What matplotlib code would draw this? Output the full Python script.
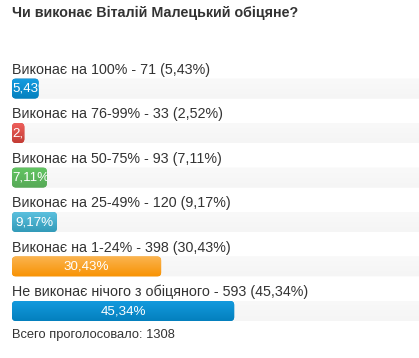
import matplotlib
matplotlib.use("Agg")
import matplotlib.pyplot as plt
import numpy as np
from matplotlib.patches import FancyBboxPatch
from matplotlib.transforms import TransformedBbox

title = "Чи виконає Віталій Малецький обіцяне?"
labels = [
    "Виконає на 100%",
    "Виконає на 76-99%",
    "Виконає на 50-75%",
    "Виконає на 25-49%",
    "Виконає на 1-24%",
    "Не виконає нічого з обіцяного",
]
votes = [71, 33, 93, 120, 398, 593]
percents = [5.43, 2.52, 7.11, 9.17, 30.43, 45.34]
pct_text = ["5,43%", "2,52%", "7,11%", "9,17%", "30,43%", "45,34%"]
total_votes = 1308
footer = "Всего проголосовало: "

# gradient colours (top, bottom)
bar_colors = [
    ("#149bdf", "#0480be"),
    ("#ee5f5b", "#c43c35"),
    ("#62c462", "#57a957"),
    ("#5bc0de", "#339bb9"),
    ("#fbb450", "#f89406"),
    ("#149bdf", "#0480be"),
]
track_colors = ("#f5f5f5", "#f9f9f9")

W, H = 419, 358
DPI = 100
plt.rcParams["font.family"] = ["Liberation Sans", "DejaVu Sans"]

fig = plt.figure(figsize=(W / DPI, H / DPI), dpi=DPI)
fig.patch.set_facecolor("white")

left_px, track_px = 12, 490
first_center, step = 88.5, 44.5
ax = fig.add_axes([left_px / W, 0, track_px / W, 1])
ax.set_xlim(0, 100)
top = -first_center / step
bottom = (H - first_center) / step
ax.set_ylim(bottom, top)
ax.axis("off")

bar_h = 20 / step
ypos = np.arange(len(labels))

xu = 100 / track_px  # x units per pixel
yu = 1 / step        # y units per pixel
aspect = yu / xu
radius = 4 * xu

FS = 10.3
FS_BAR = 9.6


def rounded(rect, color):
    p = FancyBboxPatch((rect.get_x(), rect.get_y()), rect.get_width(), rect.get_height(),
                       boxstyle=f"round,pad=0,rounding_size={radius}",
                       mutation_aspect=aspect, facecolor=color, edgecolor="none")
    ax.add_patch(p)
    return p


def gradient_fill(patch, c_top, c_bot, x0, x1, y0, y1):
    from matplotlib.colors import to_rgb
    t = np.array(to_rgb(c_top))
    b = np.array(to_rgb(c_bot))
    n = 32
    f = np.linspace(0, 1, n)[:, None]
    img = (t * (1 - f) + b * f)[:, None, :]
    im = ax.imshow(img, extent=(x0, x1, y1, y0), aspect="auto", interpolation="bilinear",
                   zorder=patch.get_zorder() + 0.1)
    im.set_clip_path(patch)


track = ax.barh(ypos, [100] * len(labels), height=bar_h, color="none")
bars = ax.barh(ypos, percents, height=bar_h, color="none")

renderer = fig.canvas.get_renderer()
for i, (tr, br) in enumerate(zip(track, bars)):
    tp = rounded(tr, track_colors[1])
    tp.set_zorder(1)
    gradient_fill(tp, track_colors[1], track_colors[0], tr.get_x(), tr.get_x() + tr.get_width(),
                  tr.get_y(), tr.get_y() + tr.get_height())
    bp = rounded(br, bar_colors[i][1])
    bp.set_zorder(3)
    gradient_fill(bp, bar_colors[i][0], bar_colors[i][1], br.get_x(), br.get_x() + br.get_width(),
                  br.get_y(), br.get_y() + br.get_height())
    # label above bar
    ax.annotate(f"{labels[i]} - {votes[i]} ({pct_text[i]})", xy=(0, ypos[i]),
                xytext=(0, 19), textcoords="offset pixels", ha="left", va="center",
                fontsize=FS, color="#333333", annotation_clip=False)
    # text inside bar
    cx = br.get_x() + br.get_width() / 2
    t = ax.text(cx, ypos[i], pct_text[i], ha="center", va="center", fontsize=FS_BAR,
                color="white", zorder=5)
    bb = t.get_window_extent(renderer)
    bar_px = br.get_width() / xu
    if bb.width > bar_px:
        t.set_x(br.get_x())
        t.set_ha("left")
    t.set_clip_on(True)
    t.set_clip_box(TransformedBbox(br.get_bbox(), ax.transData))

fig.text(left_px / W, 1 - 13 / H, title, ha="left", va="center", fontsize=FS,
         fontweight="bold", color="#333333")
fig.text(left_px / W, 1 - 335 / H, f"{footer}{total_votes}", ha="left", va="center",
         fontsize=9.3, color="#333333")

fig.savefig("out.png", dpi=DPI)
